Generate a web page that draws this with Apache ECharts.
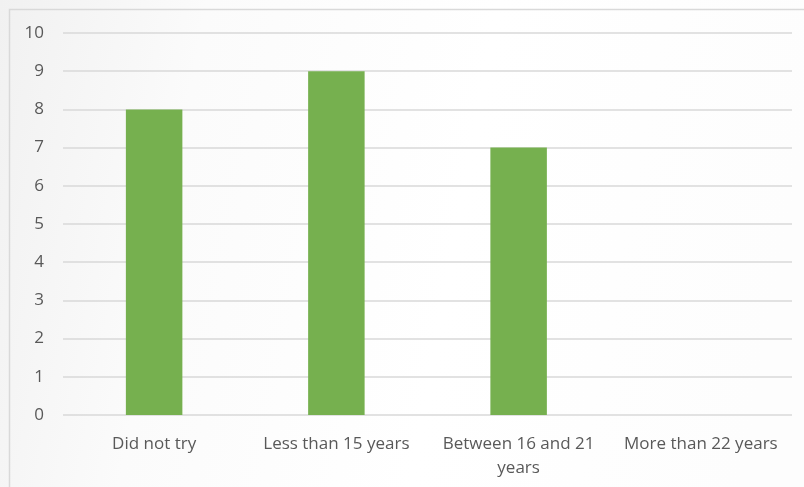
<!DOCTYPE html>
<html>
<head>
<meta charset="utf-8">
<script src="https://cdn.jsdelivr.net/npm/echarts@6/dist/echarts.min.js"></script>
<style>
  html, body { margin: 0; padding: 0; }
  #chart { width: 804px; height: 487px; }
</style>
</head>
<body>
<div id="chart"></div>
<script>
const categories = ['Did not try', 'Less than 15 years', 'Between 16 and 21\nyears', 'More than 22 years'];
const counts = [8, 9, 7, 0];
const yTicks = { min: 0, max: 10, interval: 1 };

const chart = echarts.init(document.getElementById('chart'));
chart.setOption({
  backgroundColor: {
    type: 'linear', x: 0, y: 0, x2: 1, y2: 0.3,
    colorStops: [
      { offset: 0, color: '#f1f1f1' },
      { offset: 0.25, color: '#fbfbfb' },
      { offset: 0.6, color: '#ffffff' },
      { offset: 1, color: '#fdfdfd' }
    ]
  },
  animation: false,
  graphic: [{
    type: 'rect',
    shape: { x: 9.5, y: 9.5, width: 800, height: 490 },
    style: { fill: 'none', stroke: '#d9d9d9', lineWidth: 1.5 },
    silent: true
  }],
  grid: { left: 63, right: 12, top: 33, bottom: 72 },
  xAxis: {
    type: 'category',
    data: categories,
    axisLine: { show: false },
    axisTick: { show: false },
    axisLabel: {
      color: '#595959', fontFamily: 'Open Sans', fontSize: 17,
      margin: 17, lineHeight: 24, interval: 0
    }
  },
  yAxis: {
    type: 'value',
    min: yTicks.min, max: yTicks.max, interval: yTicks.interval,
    axisLine: { show: false },
    axisTick: { show: false },
    axisLabel: { color: '#595959', fontFamily: 'Open Sans', fontSize: 17, margin: 19 },
    splitLine: { lineStyle: { color: '#d9d9d9', width: 1.5 } }
  },
  series: [{
    type: 'bar',
    data: counts,
    barWidth: '31%',
    itemStyle: { color: '#76b04f' }
  }]
});
</script>
</body>
</html>
